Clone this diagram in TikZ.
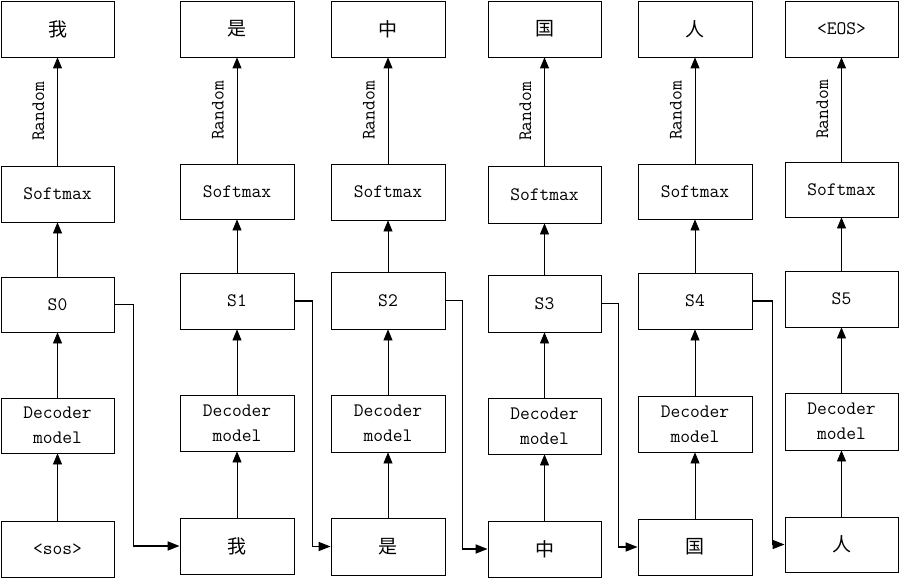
\documentclass[tikz,border=0pt]{standalone}
\usepackage{fontspec}
\newfontfamily\cjk{Noto Sans CJK SC}
\usetikzlibrary{arrows.meta}
\tikzset{
  box/.style={draw, line width=0.8pt, inner sep=0pt, minimum height=56pt, align=center,
    font=\fontsize{19}{25}\selectfont\ttfamily},
  cjkbox/.style={box, font=\fontsize{19}{22}\selectfont\cjk},
  arr/.style={line width=0.8pt, -{Triangle[length=11pt,width=9pt]}},
  conn/.style={line width=1.6pt, -{Triangle[length=12pt,width=9pt]}},
  rl/.style={midway, xshift=-19pt, rotate=90, font=\fontsize{19}{20}\selectfont\ttfamily}
}
\begin{document}
\begin{tikzpicture}[x=1pt,y=-1pt]
\useasboundingbox (0,0) rectangle (899,578);
% column 0
\node[cjkbox, minimum width=113pt] (t0) at (57.5,29) {我};
\node[box, minimum width=113pt] (f0) at (57.5,194) {Softmax};
\node[box, minimum width=113pt, minimum height=55pt] (s0) at (57.5,304.5) {S0};
\node[box, minimum width=113pt, minimum height=55pt] (d0) at (57.5,425.5) {Decoder\\model};
\node[box, minimum width=113pt] (b0) at (57.5,549) {<sos>};
% column 1
\node[cjkbox, minimum width=114pt] (t1) at (237,29) {是};
\node[box, minimum width=114pt, minimum height=55pt] (f1) at (237,191.5) {Softmax};
\node[box, minimum width=114pt] (s1) at (237,301) {S1};
\node[box, minimum width=114pt] (d1) at (237,423) {Decoder\\model};
\node[cjkbox, minimum width=114pt] (b1) at (237,546) {我};
% column 2
\node[cjkbox, minimum width=114pt] (t2) at (388,29) {中};
\node[box, minimum width=114pt] (f2) at (388,192) {Softmax};
\node[box, minimum width=114pt, minimum height=57pt] (s2) at (388,300.5) {S2};
\node[box, minimum width=114pt, minimum height=57pt] (d2) at (388,423.5) {Decoder\\model};
\node[cjkbox, minimum width=114pt, minimum height=57pt] (b2) at (388,546.5) {是};
% column 3
\node[cjkbox, minimum width=113pt] (t3) at (544.5,29) {国};
\node[box, minimum width=113pt, minimum height=57pt] (f3) at (544.5,194.5) {Softmax};
\node[box, minimum width=113pt, minimum height=57pt] (s3) at (544.5,303.5) {S3};
\node[box, minimum width=113pt] (d3) at (544.5,426) {Decoder\\model};
\node[cjkbox, minimum width=113pt] (b3) at (544.5,549) {中};
% column 4
\node[cjkbox, minimum width=114pt] (t4) at (695,29) {人};
\node[box, minimum width=114pt, minimum height=55pt] (f4) at (695,191.5) {Softmax};
\node[box, minimum width=114pt] (s4) at (695,301) {S4};
\node[box, minimum width=114pt] (d4) at (695,424) {Decoder\\model};
\node[cjkbox, minimum width=114pt] (b4) at (695,547) {国};
% column 5
\node[box, minimum width=113pt] (t5) at (841.5,29) {<EOS>};
\node[box, minimum width=113pt, minimum height=55pt] (f5) at (841.5,189.5) {Softmax};
\node[box, minimum width=113pt] (s5) at (841.5,299) {S5};
\node[box, minimum width=113pt, minimum height=57pt] (d5) at (841.5,421.5) {Decoder\\model};
\node[cjkbox, minimum width=113pt, minimum height=55pt] (b5) at (841.5,544.5) {人};
% vertical arrows
\foreach \i in {0,...,5}{
  \draw[arr] (b\i) -- (d\i);
  \draw[arr] (d\i) -- (s\i);
  \draw[arr] (s\i) -- (f\i);
  \draw[arr] (f\i) -- node[rl]{Random} (t\i);
}
% recurrent connectors
\draw[conn] (s0.east) -- ++(19,0) |- (b1.west);
\draw[conn] (s1.east) -- ++(18,0) |- (b2.west);
\draw[conn] (s2.east) -- ++(17,0) |- (b3.west);
\draw[conn] (s3.east) -- ++(17,0) |- (b4.west);
\draw[conn] (s4.east) -- ++(20,0) |- (b5.west);
\end{tikzpicture}
\end{document}
